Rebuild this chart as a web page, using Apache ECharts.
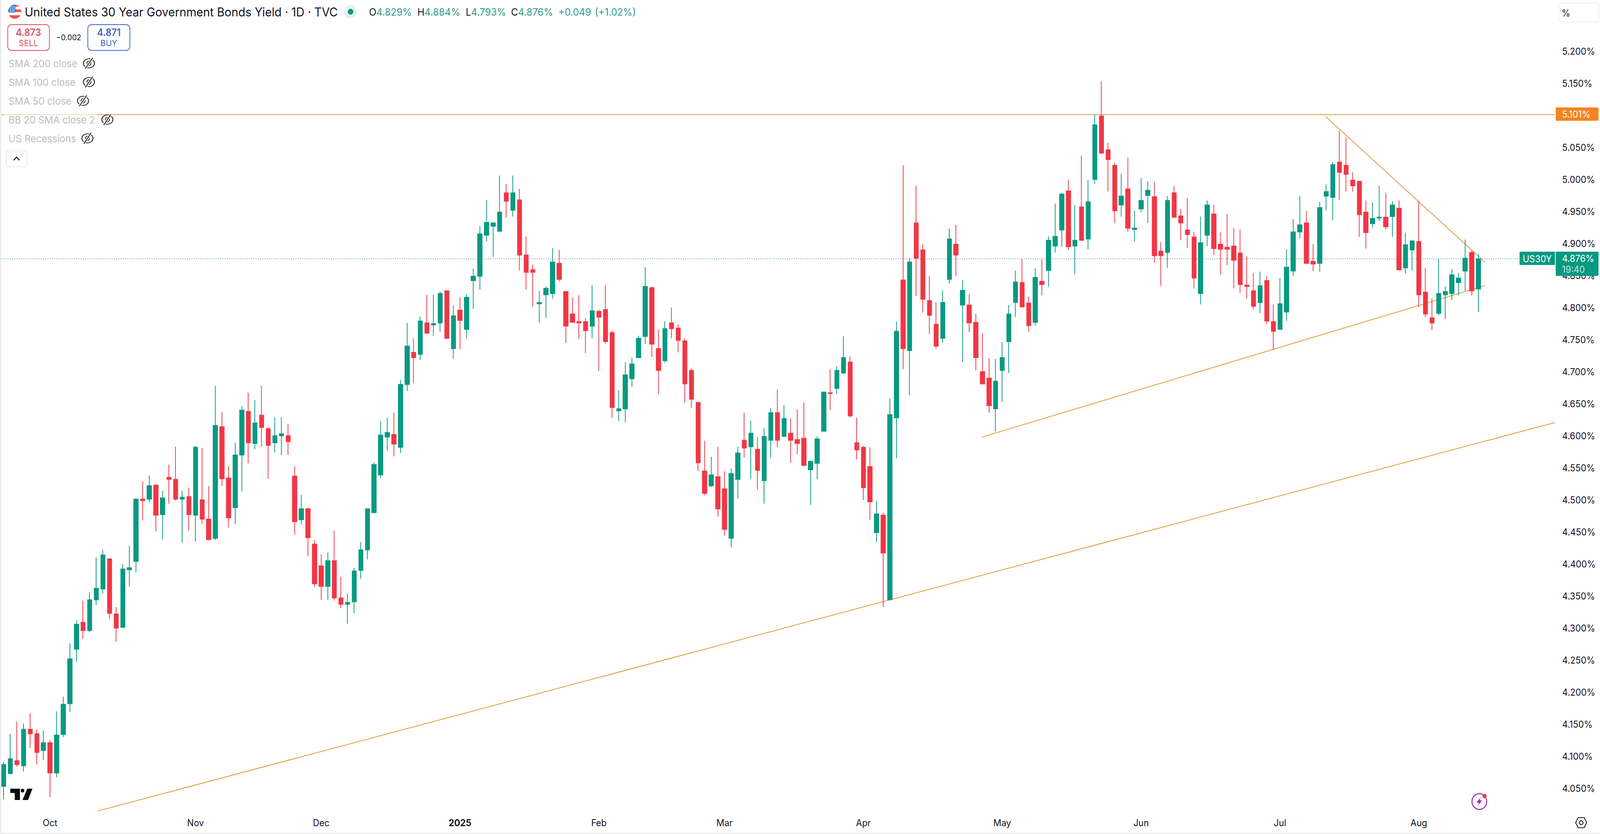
<!DOCTYPE html>
<html><head><meta charset="utf-8"><title>US30Y</title>
<style>html,body{margin:0;padding:0;background:#fff;overflow:hidden;width:100%;height:100%}#c{width:4336px;height:2134px;transform-origin:0 0}</style>
<script src="https://cdn.jsdelivr.net/npm/echarts@6/dist/echarts.min.js"></script></head>
<body><div id="c"></div>
<script>
const opens=[4.053,4.073,4.093,4.085,4.142,4.135,4.109,4.121,4.074,4.134,
4.182,4.267,4.309,4.296,4.344,4.361,4.408,4.322,4.301,4.391,
4.404,4.501,4.501,4.523,4.477,4.535,4.532,4.501,4.505,4.476,
4.500,4.470,4.440,4.614,4.534,4.488,4.570,4.638,4.588,4.632,
4.611,4.589,4.600,4.600,4.537,4.469,4.486,4.431,4.397,4.365,
4.405,4.347,4.337,4.341,4.390,4.422,4.480,4.539,4.598,4.602,
4.582,4.680,4.730,4.727,4.776,4.773,4.776,4.826,4.736,4.796,
4.766,4.842,4.849,4.913,4.927,4.919,4.979,4.952,4.968,4.882,
4.859,4.806,4.820,4.822,4.869,4.825,4.790,4.778,4.778,4.771,
4.794,4.797,4.761,4.639,4.642,4.689,4.722,4.755,4.831,4.736,
4.717,4.776,4.768,4.748,4.702,4.652,4.545,4.522,4.536,4.517,
4.440,4.532,4.593,4.583,4.579,4.530,4.593,4.636,4.599,4.604,
4.594,4.596,4.547,4.557,4.607,4.667,4.674,4.698,4.715,4.589,
4.582,4.552,4.449,4.476,4.344,4.628,4.843,4.733,4.932,4.890,
4.811,4.774,4.752,4.844,4.899,4.804,4.804,4.777,4.700,4.690,
4.642,4.702,4.747,4.808,4.839,4.807,4.777,4.841,4.858,4.896,
4.921,4.982,4.896,4.957,4.907,5.000,5.099,5.046,5.022,4.960,
4.985,4.922,4.954,4.975,4.973,4.888,4.886,4.979,4.943,4.921,
4.910,4.822,4.913,4.946,4.899,4.894,4.896,4.885,4.835,4.826,
4.808,4.842,4.778,4.766,4.793,4.857,4.918,4.932,4.872,4.869,
4.974,4.972,5.027,5.022,4.999,4.997,4.949,4.931,4.940,4.941,
4.942,4.955,4.862,4.890,4.903,4.824,4.784,4.791,4.820,4.822,4.839,4.857,4.886,4.829];
const closes=[4.087,4.096,4.087,4.142,4.135,4.106,4.121,4.074,4.133,4.181,
4.252,4.306,4.296,4.344,4.362,4.414,4.323,4.300,4.392,4.394,
4.501,4.499,4.522,4.476,4.503,4.532,4.501,4.504,4.477,4.582,
4.470,4.438,4.616,4.533,4.472,4.570,4.640,4.589,4.620,4.613,
4.585,4.600,4.603,4.591,4.466,4.486,4.441,4.369,4.365,4.405,
4.347,4.337,4.340,4.389,4.422,4.486,4.555,4.601,4.605,4.587,
4.680,4.740,4.722,4.779,4.760,4.775,4.822,4.752,4.787,4.780,
4.816,4.849,4.915,4.933,4.932,4.949,4.966,4.979,4.882,4.855,
4.855,4.808,4.830,4.871,4.844,4.771,4.777,4.776,4.764,4.795,
4.785,4.747,4.644,4.642,4.695,4.712,4.752,4.833,4.743,4.702,
4.767,4.767,4.749,4.681,4.657,4.558,4.510,4.539,4.486,4.454,
4.541,4.573,4.581,4.604,4.546,4.599,4.636,4.593,4.627,4.593,
4.588,4.554,4.560,4.595,4.668,4.666,4.702,4.722,4.631,4.578,
4.519,4.497,4.478,4.417,4.633,4.763,4.736,4.871,4.877,4.813,
4.788,4.740,4.808,4.907,4.882,4.827,4.776,4.722,4.681,4.647,
4.685,4.722,4.790,4.840,4.801,4.772,4.847,4.836,4.905,4.911,
4.977,4.895,4.905,4.905,4.965,5.085,5.041,5.031,4.951,4.974,
4.924,4.924,4.967,4.983,4.881,4.881,4.967,4.941,4.932,4.914,
4.846,4.901,4.960,4.892,4.891,4.891,4.874,4.836,4.833,4.802,
4.834,4.779,4.763,4.806,4.863,4.918,4.929,4.869,4.868,4.956,
4.981,5.023,5.011,5.008,4.990,4.945,4.917,4.939,4.941,4.926,
4.960,4.859,4.898,4.904,4.820,4.790,4.776,4.822,4.825,4.851,4.846,4.877,4.826,4.876];
const highs=[4.091,4.135,4.154,4.151,4.167,4.142,4.140,4.125,4.170,4.193,
4.276,4.312,4.343,4.356,4.410,4.422,4.408,4.333,4.400,4.428,
4.502,4.529,4.538,4.524,4.514,4.555,4.583,4.514,4.519,4.584,
4.581,4.522,4.678,4.637,4.553,4.589,4.646,4.667,4.656,4.678,
4.613,4.629,4.629,4.618,4.552,4.508,4.488,4.437,4.415,4.418,
4.452,4.380,4.354,4.394,4.434,4.486,4.559,4.623,4.628,4.636,
4.687,4.776,4.752,4.786,4.820,4.820,4.825,4.827,4.803,4.816,
4.821,4.861,4.927,4.968,4.933,5.006,4.993,5.006,4.985,4.911,
4.867,4.826,4.833,4.893,4.890,4.825,4.816,4.819,4.784,4.835,
4.797,4.835,4.764,4.671,4.715,4.722,4.756,4.863,4.833,4.766,
4.779,4.800,4.774,4.752,4.705,4.652,4.592,4.567,4.583,4.545,
4.549,4.583,4.636,4.623,4.598,4.612,4.643,4.672,4.648,4.627,
4.641,4.652,4.561,4.599,4.669,4.704,4.708,4.755,4.724,4.628,
4.584,4.582,4.499,4.480,4.658,4.778,5.022,4.877,4.990,4.899,
4.849,4.808,4.827,4.923,4.929,4.843,4.821,4.790,4.760,4.721,
4.720,4.746,4.804,4.858,4.876,4.817,4.861,4.875,4.911,4.962,
4.979,4.999,4.960,5.037,4.999,5.101,5.153,5.057,5.026,5.009,
5.034,4.951,5.002,4.997,4.996,4.902,4.974,4.990,4.954,4.971,
4.918,4.942,4.967,4.960,4.917,4.946,4.924,4.922,4.880,4.854,
4.856,4.849,4.805,4.846,4.891,4.938,4.974,4.951,4.899,4.965,
4.992,5.027,5.076,5.066,5.011,4.997,4.967,4.964,4.990,4.979,
4.966,4.967,4.917,4.905,4.966,4.862,4.814,4.876,4.833,4.860,4.854,4.906,4.889,4.884];
const lows=[4.033,4.072,4.084,4.076,4.113,4.087,4.094,4.036,4.067,4.130,
4.169,4.247,4.283,4.294,4.336,4.354,4.314,4.279,4.301,4.365,
4.387,4.468,4.496,4.451,4.438,4.494,4.499,4.433,4.452,4.435,
4.462,4.437,4.437,4.522,4.457,4.462,4.513,4.557,4.579,4.583,
4.533,4.574,4.570,4.570,4.446,4.462,4.412,4.364,4.344,4.344,
4.343,4.331,4.307,4.323,4.377,4.407,4.480,4.534,4.577,4.568,
4.573,4.670,4.682,4.718,4.759,4.756,4.762,4.752,4.720,4.735,
4.752,4.798,4.828,4.903,4.879,4.919,4.940,4.942,4.858,4.828,
4.801,4.776,4.784,4.814,4.841,4.745,4.777,4.751,4.729,4.752,
4.701,4.744,4.628,4.623,4.621,4.676,4.721,4.743,4.723,4.665,
4.714,4.752,4.730,4.651,4.644,4.545,4.507,4.520,4.474,4.444,
4.426,4.502,4.566,4.533,4.516,4.494,4.565,4.582,4.599,4.558,
4.571,4.552,4.492,4.532,4.607,4.640,4.665,4.696,4.629,4.563,
4.500,4.469,4.434,4.333,4.343,4.565,4.704,4.663,4.818,4.792,
4.759,4.736,4.745,4.838,4.849,4.715,4.762,4.702,4.680,4.636,
4.607,4.653,4.698,4.785,4.800,4.762,4.772,4.819,4.832,4.886,
4.895,4.890,4.852,4.904,4.891,4.993,5.040,4.981,4.932,4.942,
4.918,4.903,4.949,4.932,4.870,4.834,4.862,4.940,4.905,4.893,
4.830,4.805,4.896,4.882,4.851,4.866,4.830,4.823,4.814,4.797,
4.791,4.774,4.734,4.766,4.779,4.849,4.908,4.868,4.857,4.856,
4.952,4.936,4.968,4.981,4.981,4.910,4.892,4.924,4.935,4.922,
4.910,4.858,4.853,4.858,4.801,4.785,4.765,4.788,4.782,4.812,4.819,4.826,4.819,4.793];

const monthLabels=['Oct','Nov','Dec','2025','Feb','Mar','Apr','May','Jun','Jul','Aug'];
const monthSlots=[7,29,48,69,90,109,130,151,172,193,214];
const priceTicks=[4.05,4.10,4.15,4.20,4.25,4.30,4.35,4.40,4.45,4.50,4.55,4.60,4.65,4.70,4.75,4.80,4.85,4.90,4.95,5.00,5.05,5.15,5.20];
const resistanceLevel=5.101, lastPrice=4.876;
const longTrend=[[14.2,4.0144],[234.6,4.6207]];
const supportTrend=[[147.9,4.5978],[224.0,4.8343]];
const fallingTrend=[[199.9,5.098],[224.0,4.8707]];
const ohlcText=[['O','4.829%',1000],['H','4.884%',1131],['L','4.793%',1262],['C','4.876%',1385],['','+0.049',1513],['','(+1.02%)',1612]];
const indicatorNames=['SMA 200 close','SMA 100 close','SMA 50 close','BB 20 SMA close 2','US Recessions'];
const eyeX=[241,241,225,291,237];
const titleText='United States 30 Year Government Bonds Yield · 1D · TVC';

const UP='#089981', DOWN='#F23645', ORANGE='#E8963C', FONT='Inter, Roboto, sans-serif';
const SLOTS=236, STEP=17.92;
const categories=Array.from({length:SLOTS},(_,i)=>{const k=monthSlots.indexOf(i);return k>=0?monthLabels[k]:'';});
const candles=opens.map((o,i)=>[o,closes[i],lows[i],highs[i]]);

// The browser window may be narrower than the 4336px design width: fit the whole design into it.
document.getElementById('c').style.transform=`scale(${Math.min(1,window.innerWidth/4336)},${Math.min(1,window.innerHeight/2134)})`;

function txt(text,x,y,size,fill,extra){return {type:'text',silent:true,style:Object.assign({text,x,y,fill,font:`${size}px ${FONT}`,textVerticalAlign:'middle',textAlign:'left'},extra||{})};}
function eye(cx,cy){return {type:'group',x:cx,y:cy,silent:true,children:[
 {type:'circle',scaleY:0.78,shape:{cx:0,cy:0,r:15},style:{fill:'none',stroke:'#222',lineWidth:2.4}},
 {type:'circle',shape:{cx:0,cy:0,r:5.5},style:{fill:'none',stroke:'#222',lineWidth:2}},
 {type:'line',shape:{x1:-11,y1:15,x2:11,y2:-15},style:{stroke:'#fff',lineWidth:6}},
 {type:'line',shape:{x1:-10,y1:14,x2:10,y2:-14},style:{stroke:'#222',lineWidth:2.2}}]};}
const flagSvg=`<svg xmlns="http://www.w3.org/2000/svg" width="36" height="36"><clipPath id="k"><circle cx="18" cy="18" r="18"/></clipPath><g clip-path="url(#k)"><rect width="36" height="36" fill="#fff"/><rect y="12" width="36" height="7" fill="#F0565A"/><rect y="27" width="36" height="9" fill="#F0565A"/><rect y="0" width="36" height="5" fill="#F0565A"/><rect width="20" height="20" fill="#3D7FD0"/><g fill="#fff"><circle cx="6" cy="6" r="1.4"/><circle cx="11" cy="6" r="1.4"/><circle cx="16" cy="6" r="1.4"/><circle cx="6" cy="11" r="1.4"/><circle cx="11" cy="11" r="1.4"/><circle cx="16" cy="11" r="1.4"/><circle cx="6" cy="16" r="1.4"/><circle cx="11" cy="16" r="1.4"/><circle cx="16" cy="16" r="1.4"/></g></g></svg>`;

const g=[];
g.push({type:'rect',silent:true,shape:{x:0,y:0,width:3.5,height:2134},style:{fill:'#ebebeb'}});
g.push({type:'rect',silent:true,shape:{x:0,y:2131,width:4336,height:3},style:{fill:'#ebebeb'}});
g.push({type:'image',silent:true,style:{image:'data:image/svg+xml;utf8,'+encodeURIComponent(flagSvg),x:22,y:12,width:36,height:36}});
g.push(txt(titleText,67,31,31.3,'#131722'));
g.push({type:'circle',silent:true,shape:{cx:950,cy:30,r:17},style:{fill:'#E3F3F0'}});
g.push({type:'circle',silent:true,shape:{cx:950,cy:30,r:7.5},style:{fill:UP}});
ohlcText.forEach(([k,v,x])=>{g.push({type:'text',silent:true,style:{x,y:31,textVerticalAlign:'middle',font:`26px ${FONT}`,
  text:(k?`{k|${k}}`:'')+`{v|${v}}`,rich:{k:{fill:'#131722',font:`26px ${FONT}`},v:{fill:'#2E9C86',font:`26px ${FONT}`}}}});});
g.push({type:'rect',silent:true,shape:{x:21,y:63,width:113,height:66,r:10},style:{fill:'#fff',stroke:'#D9505F',lineWidth:2}});
g.push(txt('4.873',77,83,25,'#D9505F',{textAlign:'center',font:`600 25px ${FONT}`}));
g.push(txt('SELL',77,110,22,'#D9505F',{textAlign:'center'}));
g.push(txt('−0.002',186,96,20,'#131722',{textAlign:'center'}));
g.push({type:'rect',silent:true,shape:{x:238,y:63,width:114,height:66,r:10},style:{fill:'#fff',stroke:'#3F63C8',lineWidth:2}});
g.push(txt('4.871',295,83,25,'#3F63C8',{textAlign:'center',font:`600 25px ${FONT}`}));
g.push(txt('BUY',295,110,22,'#3F63C8',{textAlign:'center'}));
g.push({type:'rect',silent:true,shape:{x:10,y:282,width:252,height:48},style:{fill:'rgba(255,255,255,0.62)'}});
indicatorNames.forEach((n,i)=>{const y=163+i*48;g.push(txt(n,23,y,26,'#BDBDBD'));g.push(eye(eyeX[i],y-1));});
g.push({type:'rect',silent:true,shape:{x:17,y:386,width:56,height:40,r:5},style:{fill:'#fff',stroke:'#E5E5E5',lineWidth:2}});
g.push({type:'polyline',silent:true,shape:{points:[[37,410],[45,402],[53,410]]},style:{fill:'none',stroke:'#131722',lineWidth:2.6}});
g.push({type:'rect',silent:true,shape:{x:4224,y:8,width:109,height:48,r:7},style:{fill:'#fff',stroke:'#EEEEEE',lineWidth:2}});
g.push(txt('%',4232,33,24,'#131722'));
g.push({type:'rect',silent:true,shape:{x:4216,y:275,width:116,height:34,r:[0,3,3,0]},style:{fill:'#F5841F'}});
g.push(txt(resistanceLevel.toFixed(3)+'%',4233,292,24,'#fff'));
g.push({type:'rect',silent:true,shape:{x:4118,y:644,width:96,height:34,r:[3,0,0,3]},style:{fill:UP}});
g.push(txt('US30Y',4166,662,24,'#fff',{textAlign:'center'}));
g.push({type:'rect',silent:true,shape:{x:4216,y:644,width:116,height:62,r:[0,3,3,3]},style:{fill:UP}});
g.push(txt(lastPrice.toFixed(3)+'%',4233,661,24,'#fff'));
g.push(txt('19:40',4233,689,24,'#BFE6DF'));
g.push({type:'polygon',silent:true,shape:{points:[[28,2018],[54,2018],[54,2047],[40,2047],[40,2029],[28,2029]]},style:{fill:'#0C0C0C'}});
g.push({type:'circle',silent:true,shape:{cx:61,cy:2023,r:5},style:{fill:'#0C0C0C'}});
g.push({type:'polygon',silent:true,shape:{points:[[74,2018],[88,2018],[76,2047],[61,2047]]},style:{fill:'#0C0C0C'}});
g.push({type:'circle',silent:true,shape:{cx:4009,cy:2051,r:20},style:{fill:'none',stroke:'#8E2FB0',lineWidth:2.6}});
g.push({type:'polygon',silent:true,shape:{points:[[4013,2040],[4001,2054],[4008,2054],[4004,2062],[4017,2048],[4010,2048]]},style:{fill:'#8E2FB0'}});
g.push({type:'circle',silent:true,shape:{cx:4023,cy:2037,r:6},style:{fill:'#EE3B3B',stroke:'#fff',lineWidth:1}});
g.push({type:'polygon',silent:true,shape:{points:[[4270,2105],[4277,2092],[4293,2092],[4300,2105],[4293,2118],[4277,2118]]},style:{fill:'none',stroke:'#131722',lineWidth:2.2}});
g.push({type:'circle',silent:true,shape:{cx:4285,cy:2105,r:5},style:{fill:'none',stroke:'#131722',lineWidth:2.2}});
// keep the overlay panels and price tags above the axis labels
(function raise(list){list.forEach(e=>{e.z=100;if(e.children)raise(e.children);});})(g);

function trend(data,color,width,dash){return {type:'line',xAxisIndex:1,yAxisIndex:0,data,symbol:'none',silent:true,z:2,animation:false,
  lineStyle:{color,width,type:dash||'solid',cap:'butt'}};}

const chart=echarts.init(document.getElementById('c'),null,{renderer:'svg',width:4336,height:2134});
chart.setOption({
 animation:false,backgroundColor:'#fff',
 grid:{left:1.24,top:49,width:SLOTS*STEP,height:2050,containLabel:false},
 xAxis:[{type:'category',data:categories,boundaryGap:true,position:'bottom',
   axisLine:{show:false},axisTick:{show:false},splitLine:{show:false},
   axisLabel:{show:true,interval:0,margin:-6,hideOverlap:false,color:'#131722',fontFamily:'Inter',fontSize:24,
     formatter:v=>v==='2025'?`{b|${v}}`:v,rich:{b:{fontFamily:'Inter',fontSize:24,fontWeight:700,color:'#131722'}}}},
  {type:'value',min:-0.5,max:SLOTS-0.5,show:false}],
 yAxis:{type:'value',position:'right',min:4.0,max:5.25,scale:true,
   axisLine:{show:false},axisTick:{show:false},splitLine:{show:false},
   axisLabel:{customValues:priceTicks,margin:3,color:'#131722',fontFamily:'Inter',fontSize:24,align:'left',formatter:v=>v.toFixed(3)+'%'}},
 series:[
  trend(longTrend,ORANGE,2),
  trend(supportTrend,ORANGE,2),
  trend(fallingTrend,'#E0923F',2),
  trend([[-0.35,resistanceLevel],[234.6,resistanceLevel]],'#DD9A52',2),
  trend([[-0.4,lastPrice],[229.2,lastPrice]],'#4F9F93',2,[2,4]),
  {type:'candlestick',xAxisIndex:0,yAxisIndex:0,data:candles,z:3,barWidth:12,silent:true,large:false,
   itemStyle:{color:UP,color0:DOWN,borderColor:UP,borderColor0:DOWN,borderWidth:2}}
 ],
 graphic:{elements:g}
});
</script></body></html>
